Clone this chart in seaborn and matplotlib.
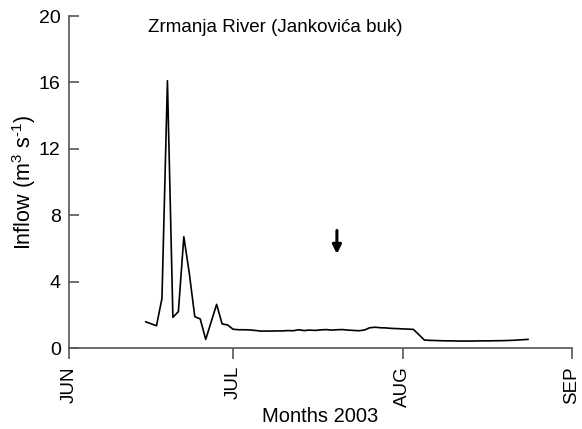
import pandas as pd
import matplotlib
matplotlib.use("Agg")
import matplotlib.pyplot as plt
import seaborn as sns

# dias contados a partir de 1 de junho de 2003 (0 = 1 jun)
dias = [14, 16, 17, 18, 19, 20, 21, 22, 23, 24, 25, 27, 28, 29,
        30, 31, 32, 33, 34, 35, 36, 37, 38, 39, 40, 41, 42, 43, 44, 45,
        46, 47, 48, 49, 50, 51, 52, 53, 54, 55, 56, 57, 58, 59, 60,
        61, 62, 63, 64, 65, 66, 67, 68, 69, 70, 71, 72, 73, 74, 75,
        76, 77, 78, 79, 80, 81, 82, 83, 84]
# vazão (m3/s)
vazao = [1.58, 1.34, 2.99, 16.1, 1.85, 2.19, 6.7, 4.5, 1.89, 1.75, 0.52, 2.63, 1.45, 1.39,
         1.13, 1.10, 1.10, 1.09, 1.06, 1.02, 1.02, 1.02, 1.03, 1.03, 1.05, 1.04, 1.10, 1.05, 1.08, 1.06,
         1.09, 1.11, 1.08, 1.10, 1.11, 1.08, 1.06, 1.04, 1.08, 1.22, 1.25, 1.22, 1.21, 1.18, 1.17,
         1.15, 1.14, 1.12, 0.80, 0.48, 0.46, 0.45, 0.44, 0.43, 0.43, 0.42, 0.42, 0.42, 0.42, 0.43,
         0.43, 0.43, 0.44, 0.44, 0.45, 0.46, 0.48, 0.50, 0.52]

meses = ["JUN", "JUL", "AUG", "SEP"]
inicio_meses = ["2003-06-01", "2003-07-01", "2003-08-01", "2003-09-01"]
yticks = [0, 4, 8, 12, 16, 20]
seta_data = "2003-07-20"   # seta marcando a data
titulo = "Zrmanja River (Jankovića buk)"

inicio = pd.Timestamp("2003-06-01")
df = pd.DataFrame({"data": [inicio + pd.Timedelta(days=d) for d in dias],
                   "vazao": vazao})

sns.set_style("ticks")
plt.rcParams["font.family"] = ["Liberation Sans", "DejaVu Sans"]
plt.rcParams["mathtext.fontset"] = "custom"
plt.rcParams["mathtext.rm"] = "Liberation Sans"
# textos em preto (o estilo do seaborn usa cinza escuro)
plt.rcParams["text.color"] = "black"
plt.rcParams["axes.labelcolor"] = "black"
plt.rcParams["xtick.labelcolor"] = "black"
plt.rcParams["ytick.labelcolor"] = "black"

fig = plt.figure(figsize=(5.82, 4.29), dpi=100)
ax = fig.add_axes([0.1186, 0.1888, 0.8642, 0.7739])

sns.lineplot(data=df, x="data", y="vazao", color="black", linewidth=1.2, ax=ax)

# seta indicando o evento
xs = pd.Timestamp(seta_data)
ax.annotate("", xy=(xs, 5.5), xytext=(xs, 7.25),
            arrowprops=dict(arrowstyle="-|>", color="black", lw=2.2, mutation_scale=13))

ax.text(0.157, 0.964, titulo, transform=ax.transAxes, va="center", ha="left", fontsize=13.5)

ax.set_xlim(pd.Timestamp(inicio_meses[0]), pd.Timestamp(inicio_meses[-1]))
ax.set_xticks([pd.Timestamp(m) for m in inicio_meses])
ax.set_xticklabels(meses, rotation=90, fontsize=13.5)
ax.set_ylim(0, 20)
ax.set_yticks(yticks)
ax.set_yticklabels([str(v) for v in yticks], fontsize=14)

ax.set_xlabel("Months 2003", fontsize=14.5, labelpad=0)
ax.set_ylabel("Inflow (m$^{\\mathrm{3}}$ s$^{\\mathrm{\u20101}}$)", fontsize=15.5, labelpad=1)

for lado in ["top", "right"]:
    ax.spines[lado].set_visible(False)
for lado in ["left", "bottom"]:
    ax.spines[lado].set_color("#555555")
    ax.spines[lado].set_linewidth(1.2)

ax.tick_params(axis="x", bottom=True, direction="out", length=8, width=1.2, color="#555555", pad=5)
ax.tick_params(axis="y", left=True, direction="in", length=7, width=1.2, color="#555555", pad=6)

plt.savefig("out.png", dpi=100)
